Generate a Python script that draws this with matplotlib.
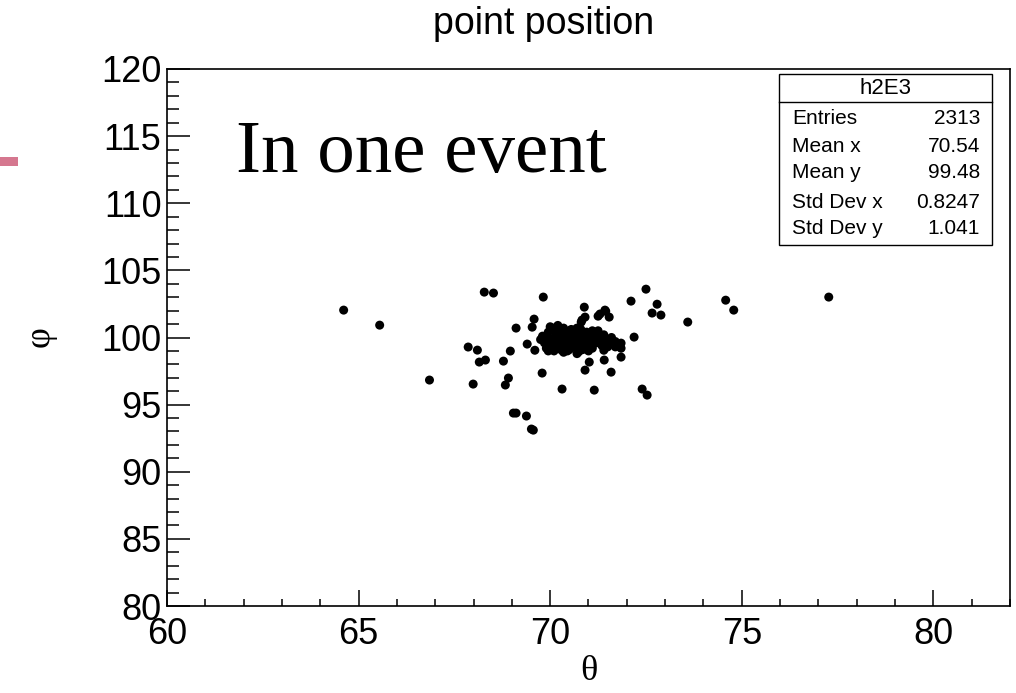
import matplotlib
matplotlib.use("Agg")
import matplotlib.pyplot as plt
from matplotlib.patches import Rectangle
from matplotlib.lines import Line2D
from matplotlib.ticker import MultipleLocator

plt.rcParams['font.family'] = ['Liberation Sans', 'DejaVu Sans']

# ---- data (theta, phi) ----
theta_out = [64.61, 65.55, 66.85, 67.86, 68.10, 67.99, 68.15, 68.31, 68.28, 68.52,
             68.83, 68.91, 68.78, 68.96, 69.11, 69.04, 69.11, 69.38, 69.51, 69.56,
             69.53, 69.58, 69.40, 69.82, 69.79, 70.31, 70.89, 70.91, 70.81, 71.25,
             71.43, 71.54, 71.15, 72.11, 72.79, 72.66, 72.89, 73.59, 72.19, 71.85,
             71.41, 71.59, 71.02, 70.91, 72.40, 72.53, 72.50, 74.58, 74.79, 77.27,
             70.16, 70.83, 70.83, 71.85, 71.85, 69.60, 71.30, 71.45]
phi_out = [102.04, 100.92, 96.83, 99.29, 99.06, 96.53, 98.17, 98.32, 103.38, 103.31,
           96.46, 96.98, 98.24, 98.99, 100.70, 94.37, 94.37, 94.15, 93.18, 93.10,
           100.77, 101.37, 99.51, 103.01, 97.35, 96.16, 102.26, 101.52, 101.15, 101.59,
           102.04, 101.52, 96.08, 102.71, 102.48, 101.82, 101.67, 101.15, 100.03, 98.54,
           98.32, 97.42, 98.17, 97.57, 96.16, 95.71, 103.60, 102.78, 102.04, 103.01,
           100.77, 101.30, 100.40, 99.58, 99.20, 99.05, 101.75, 101.95]

theta_core = [69.80, 69.85, 69.90, 69.95, 70.00, 70.05, 70.10, 70.10, 70.15, 70.20,
              70.25, 70.30, 70.30, 70.35, 70.40, 70.40, 70.45, 70.50, 70.50, 70.55,
              70.60, 70.60, 70.65, 70.70, 70.70, 70.75, 70.80, 70.85, 70.90, 70.95,
              71.00, 71.05, 71.10, 71.15, 71.20, 71.30, 71.35, 71.45, 71.55, 71.60,
              71.70, 71.70, 70.00, 69.75, 70.20, 70.55, 71.25, 70.35, 70.65, 70.80,
              70.25, 70.45, 70.90, 70.75, 70.30, 71.40,
              69.90, 70.00, 70.10, 70.20, 70.30, 70.40, 70.50, 70.50, 70.60, 70.60,
              70.70, 70.70, 70.80, 70.80, 70.90, 71.00, 71.00, 71.10, 71.20, 71.30,
              71.40, 71.50, 70.15, 70.35, 70.45, 69.95, 70.85, 71.10, 70.25, 70.55]
phi_core = [100.10, 99.60, 99.20, 100.40, 99.90, 99.40, 100.60, 99.00, 100.20, 99.70,
            99.30, 100.50, 99.90, 98.90, 99.50, 100.30, 99.80, 99.10, 100.00, 99.60,
            100.40, 99.30, 99.90, 98.80, 100.70, 99.50, 100.20, 99.10, 99.80, 100.40,
            99.50, 99.90, 99.20, 100.20, 99.60, 100.00, 99.40, 99.80, 99.50, 100.00,
            99.70, 99.30, 100.80, 99.85, 100.90, 100.60, 100.50, 99.40, 99.45, 99.65,
            99.75, 100.15, 100.05, 98.95, 99.05, 99.05,
            99.80, 99.50, 99.80, 100.30, 99.60, 99.90, 99.40, 100.50, 99.70, 100.10,
            99.20, 100.00, 99.40, 100.60, 99.30, 100.10, 99.00, 99.70, 100.30, 99.70,
            100.20, 99.30, 99.20, 100.70, 99.00, 99.00, 100.30, 100.50, 100.10, 99.85]

x_ticks = [60, 65, 70, 75, 80]
y_ticks = [80, 85, 90, 95, 100, 105, 110, 115, 120]

stats_title = "h2E3"
stats_names = ["Entries", "Mean x", "Mean y", "Std Dev x", "Std Dev y"]
stats_values = ["2313", "70.54", "99.48", "0.8247", "1.041"]

W, H = 1016, 693


def fx(px):
    return px / W


def fy(py):
    return 1 - py / H


fig = plt.figure(figsize=(W / 100, H / 100), dpi=100)
ax = fig.add_axes([fx(167), fy(606), fx(1010) - fx(167), fy(69) - fy(606)])

ax.scatter(theta_out + theta_core, phi_out + phi_core, s=42, c='black',
           edgecolors='none', zorder=3)

ax.set_xlim(60, 82)
ax.set_ylim(80, 120)
ax.set_xticks(x_ticks)
ax.set_yticks(y_ticks)
ax.xaxis.set_minor_locator(MultipleLocator(1))
ax.yaxis.set_minor_locator(MultipleLocator(1))
ax.tick_params(axis='x', which='major', direction='in', length=11.5, width=1.1,
               labelsize=26, pad=8)
ax.tick_params(axis='x', which='minor', direction='in', length=5.2, width=1.1)
ax.tick_params(axis='y', which='major', direction='in', length=16.5, width=1.1,
               labelsize=26, pad=4)
ax.tick_params(axis='y', which='minor', direction='in', length=8.5, width=1.1)
for sp in ax.spines.values():
    sp.set_linewidth(1.2)

# title and axis titles
fig.text(fx(544), fy(24), "point position", ha='center', va='center', fontsize=27)
fig.text(fx(589), fy(672), "θ", ha='center', va='center', fontsize=26,
         family=['Liberation Serif', 'DejaVu Serif'])
fig.text(fx(40), fy(337), "φ", ha='center', va='center', fontsize=26, rotation=90,
         family=['Liberation Serif', 'DejaVu Serif'])

# annotation
fig.text(fx(236), fy(172), "In one event", ha='left', va='baseline', fontsize=54,
         family=['Liberation Serif', 'DejaVu Serif'])

# pink mark at left edge
fig.add_artist(Rectangle((fx(0), fy(166)), fx(18), fy(157) - fy(166),
                         transform=fig.transFigure, facecolor='#d5778f',
                         edgecolor='none'))

# stats box
bx0, bx1, by0, by1 = 779, 992, 74, 245
fig.add_artist(Rectangle((fx(bx0), fy(by1)), fx(bx1) - fx(bx0), fy(by0) - fy(by1),
                         transform=fig.transFigure, facecolor='white',
                         edgecolor='black', linewidth=1.0, zorder=5))
fig.add_artist(Line2D([fx(bx0), fx(bx1)], [fy(102), fy(102)],
                      transform=fig.transFigure, color='black', linewidth=1.0,
                      zorder=6))
fig.text(fx((bx0 + bx1) / 2), fy(88), stats_title, ha='center', va='center',
         fontsize=16, zorder=7)
row_y = [118, 146, 173, 203, 228]
for name, val, ry in zip(stats_names, stats_values, row_y):
    fig.text(fx(792), fy(ry), name, ha='left', va='center', fontsize=15, zorder=7)
    fig.text(fx(980), fy(ry), val, ha='right', va='center', fontsize=15, zorder=7)

fig.savefig("out.png", dpi=100)
